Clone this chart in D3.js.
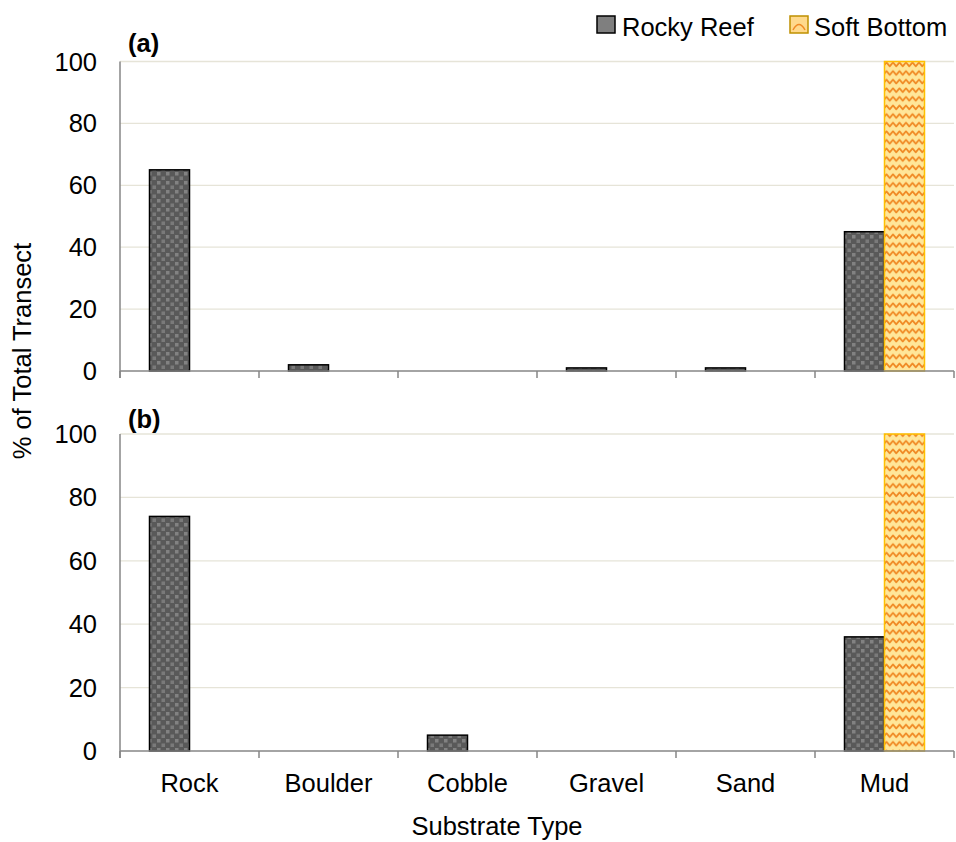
<!DOCTYPE html>
<html><head><meta charset="utf-8">
<script src="https://cdn.jsdelivr.net/npm/d3@7"></script>
<style>body{margin:0;background:#fff}svg{display:block;font-family:Arial,"Liberation Sans",sans-serif}</style>
</head><body>
<svg id="c" width="956" height="842"></svg>
<script>
const categories = ["Rock","Boulder","Cobble","Gravel","Sand","Mud"];
const seriesNames = ["Rocky Reef","Soft Bottom"];
const panelA_rocky = [65, 2, 0, 1, 1, 45];
const panelA_soft  = [0, 0, 0, 0, 0, 100];
const panelB_rocky = [74, 0, 5, 0, 0, 36];
const panelB_soft  = [0, 0, 0, 0, 0, 100];
const yTicks = [0, 20, 40, 60, 80, 100];
const panelLabels = ["(a)", "(b)"];

const svg = d3.select("#c");
const defs = svg.append("defs");
const FS = 25.5;

// patterns
const pDots = defs.append("pattern").attr("id","dots").attr("patternUnits","userSpaceOnUse")
  .attr("width",9).attr("height",9);
pDots.append("rect").attr("width",9).attr("height",9).attr("fill","#595959");
pDots.append("rect").attr("x",1).attr("y",1).attr("width",3.5).attr("height",3.5).attr("fill","#828282");
pDots.append("rect").attr("x",5.5).attr("y",5.5).attr("width",3.5).attr("height",3.5).attr("fill","#7a7a7a");

const pWave = defs.append("pattern").attr("id","wave").attr("patternUnits","userSpaceOnUse")
  .attr("width",13).attr("height",8.6);
pWave.append("rect").attr("width",13).attr("height",8.6).attr("fill","#ffe699");
pWave.append("path").attr("d","M-3.25,6 Q-1.6,2.2 0,2.2 Q1.6,2.2 3.25,6 Q4.9,9.8 6.5,2.2 M3.25,6 L3.25,6 M-6.5,2.2 Q-4.9,2.2 -3.25,6")
  .attr("fill","none").attr("stroke","none");
pWave.append("path").attr("d","M-3.25,6 L0,2.3 L3.25,6 L6.5,2.3 L9.75,6 L13,2.3 L16.25,6")
  .attr("fill","none").attr("stroke","#f08a24").attr("stroke-width",1.8).attr("stroke-linejoin","round");

const x0 = d3.scaleBand().domain(categories).range([120, 954]).paddingInner(0).paddingOuter(0);
const x1 = d3.scaleBand().domain(seriesNames).range([0, x0.bandwidth()]).paddingInner(0).paddingOuter(0.7375);

const panels = [
  {rocky: panelA_rocky, soft: panelA_soft, y0: 371, y1: 61.5, label: panelLabels[0], ly: 52},
  {rocky: panelB_rocky, soft: panelB_soft, y0: 751, y1: 434, label: panelLabels[1], ly: 428}
];

panels.forEach((p, pi) => {
  const y = d3.scaleLinear().domain([0, 100]).range([p.y0, p.y1]);
  const g = svg.append("g");
  g.selectAll("line.grid").data(yTicks.filter(t => t > 0)).join("line")
    .attr("x1", 120).attr("x2", 954).attr("y1", d => y(d)).attr("y2", d => y(d))
    .attr("stroke", "#e6e4d8").attr("stroke-width", 1.3);
  g.selectAll("text.yt").data(yTicks).join("text")
    .attr("x", 97).attr("y", d => y(d)).attr("text-anchor", "end")
    .attr("dominant-baseline", "central").attr("font-size", FS).attr("fill", "#000")
    .text(d => d);
  const data = categories.map((c, i) => ({c, vals: [{s: seriesNames[0], v: p.rocky[i]}, {s: seriesNames[1], v: p.soft[i]}]}));
  const cg = g.selectAll("g.cat").data(data).join("g").attr("transform", d => `translate(${x0(d.c)},0)`);
  cg.selectAll("rect").data(d => d.vals.filter(v => v.v > 0)).join("rect")
    .attr("x", d => x1(d.s)).attr("width", x1.bandwidth())
    .attr("y", d => y(d.v)).attr("height", d => y(0) - y(d.v))
    .attr("fill", d => d.s === seriesNames[0] ? "url(#dots)" : "url(#wave)")
    .attr("stroke", d => d.s === seriesNames[0] ? "#000" : "#ffc000")
    .attr("stroke-width", 1.5);
  g.append("line").attr("x1", 120).attr("x2", 120).attr("y1", y(100)).attr("y2", y(0) + 7)
    .attr("stroke", "#868686").attr("stroke-width", 1.5);
  g.append("line").attr("x1", 120).attr("x2", 954).attr("y1", y(0)).attr("y2", y(0))
    .attr("stroke", "#868686").attr("stroke-width", 1.5);
  const bounds = categories.map(c => x0(c)).concat([x0(categories[categories.length-1]) + x0.bandwidth()]);
  g.selectAll("line.xt").data(bounds).join("line")
    .attr("x1", d => d).attr("x2", d => d).attr("y1", y(0)).attr("y2", y(0) + 7)
    .attr("stroke", "#868686").attr("stroke-width", 1.5);
  g.append("text").attr("x", 128).attr("y", p.ly).attr("font-size", FS).attr("font-weight", "bold")
    .text(p.label);
});

svg.selectAll("text.xl").data(categories).join("text")
  .attr("x", d => x0(d) + x0.bandwidth()/2).attr("y", 792).attr("text-anchor", "middle")
  .attr("font-size", FS).text(d => d);

svg.append("text").attr("x", 497).attr("y", 835).attr("text-anchor", "middle")
  .attr("font-size", FS).text("Substrate Type");
svg.append("text").attr("transform", "translate(31,351) rotate(-90)").attr("text-anchor", "middle")
  .attr("font-size", FS).text("% of Total Transect");

const leg = svg.append("g");
const legItems = [
  {name: seriesNames[0], sx: 597, tx: 622, fill: "#7f7f7f", stroke: "#000"},
  {name: seriesNames[1], sx: 790, tx: 814, fill: "#ffd98c", stroke: "#bf9000"}
];
leg.selectAll("rect").data(legItems).join("rect")
  .attr("x", d => d.sx).attr("y", 16).attr("width", 18).attr("height", 17)
  .attr("fill", d => d.fill).attr("stroke", d => d.stroke).attr("stroke-width", 1.5);
leg.append("path").attr("d", "M793,30 Q799,19 805,30").attr("fill", "none")
  .attr("stroke", "#f08a24").attr("stroke-width", 1.5);
leg.selectAll("text").data(legItems).join("text")
  .attr("x", d => d.tx).attr("y", 36).attr("font-size", FS).text(d => d.name);
</script>
</body></html>
